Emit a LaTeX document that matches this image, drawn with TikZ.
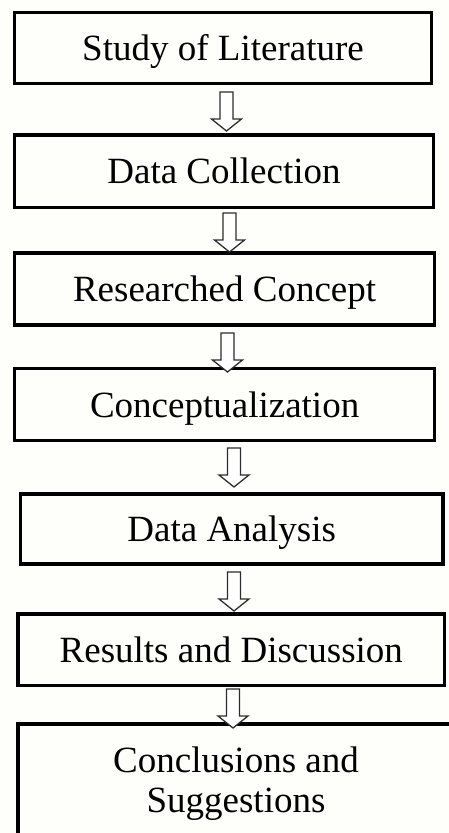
\documentclass[tikz,border=0pt]{standalone}
\usepackage{fontspec}
\setmainfont{Liberation Serif}
\definecolor{bgcol}{RGB}{254,254,250}
\definecolor{arrowcol}{RGB}{45,45,45}
\begin{document}
\begin{tikzpicture}[x=1pt,y=-1pt,
  stepbox/.style={draw=black, line width=3.5pt, inner sep=0pt,
    font=\fontsize{37}{40}\selectfont, text height=25pt, text depth=0pt},
  lastbox/.style={draw=black, line width=3.5pt, inner sep=0pt, align=center,
    font=\fontsize{37}{40}\selectfont},
  harrow/.pic={
    \draw[draw=arrowcol, line width=1.3pt, fill=white, line join=miter]
      (-6.5,0) -- (-6.5,27) -- (-15,27) -- (0,39) -- (15,27) -- (6.5,27) -- (6.5,0) -- cycle;
  }]
\fill[bgcol] (0,0) rectangle (449,833);
\useasboundingbox (0,0) rectangle (449,833);
\clip (0,0) rectangle (449,833);

\node[stepbox, minimum width=417pt, minimum height=71pt] (b1) at (223,48) {Study of Literature};
\node[stepbox, minimum width=419pt, minimum height=72.5pt] (b2) at (224,171.3) {Data Collection};
\node[stepbox, minimum width=420pt, minimum height=72pt] (b3) at (224.6,289.2) {Researched Concept};
\node[stepbox, minimum width=420pt, minimum height=72pt] (b4) at (224.6,404.6) {Conceptualization};
\node[stepbox, minimum width=422.5pt, minimum height=70pt] (b5) at (231.7,529) {Data Analysis};
\node[stepbox, minimum width=426.7pt, minimum height=71.3pt] (b6) at (231.3,649.7) {Results and Discussion};
\node[lastbox, minimum width=436pt, minimum height=120pt] (b7) at (236,784) {Conclusions and\\Suggestions};

\coordinate (a1) at (226.5,92);
\coordinate (a2) at (229.5,213);
\coordinate (a3) at (227.5,333);
\coordinate (a4) at (234,448);
\coordinate (a5) at (234,572);
\coordinate (a6) at (233,689);
\foreach \a in {a1,a2,a3,a4,a5,a6} { \pic at (\a) {harrow}; }
\end{tikzpicture}
\end{document}
